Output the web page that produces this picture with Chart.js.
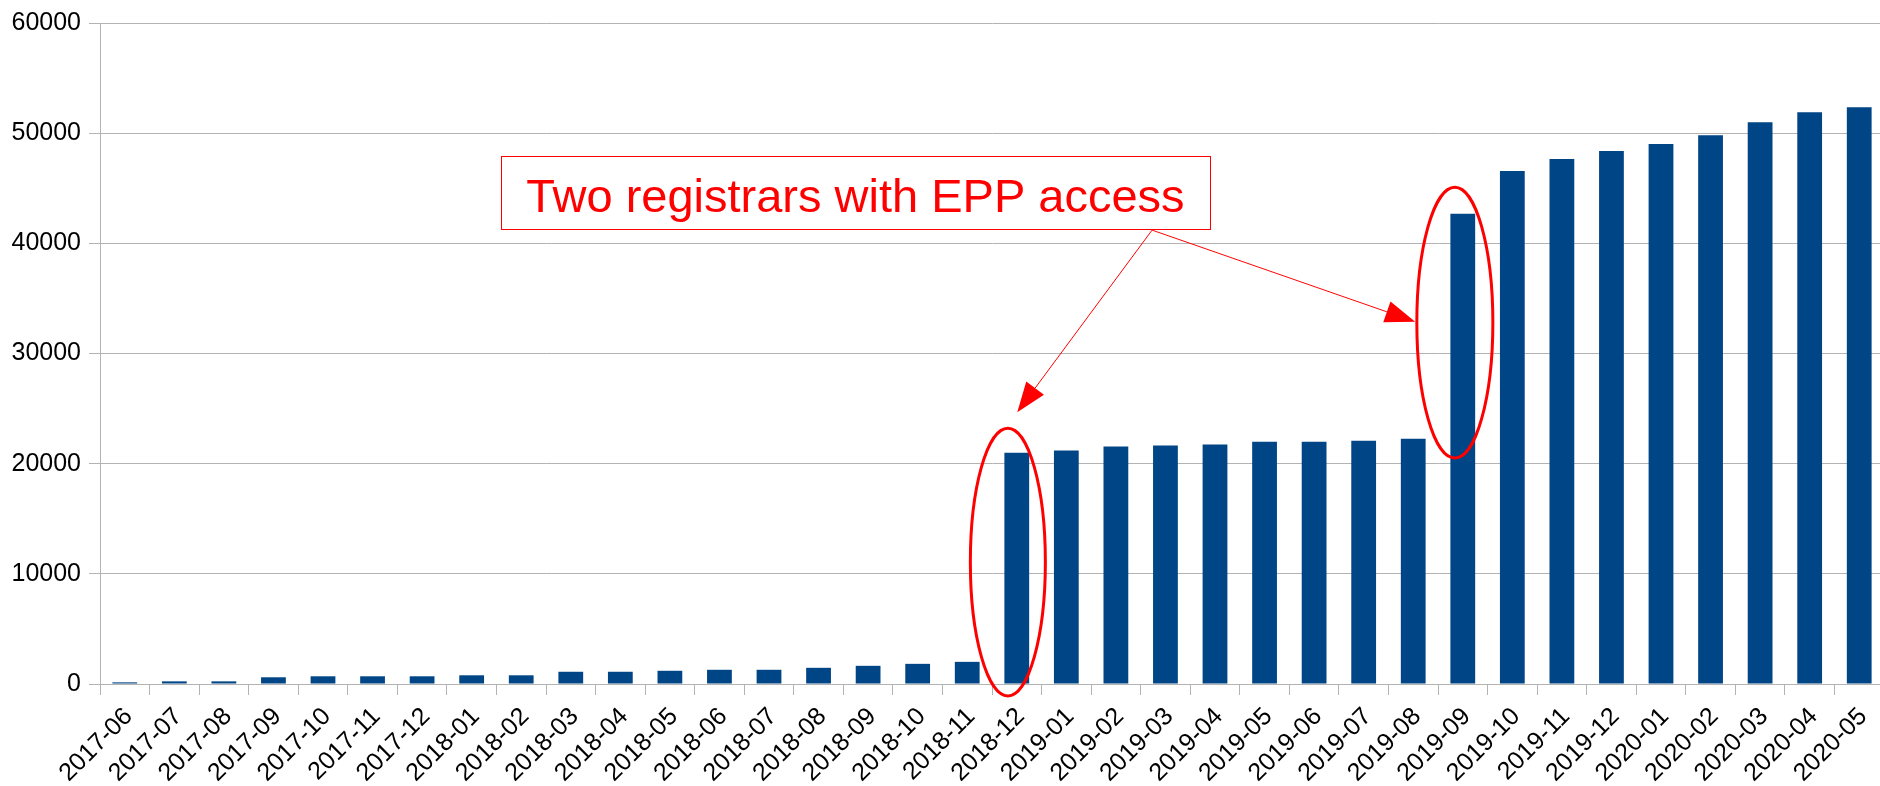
<!DOCTYPE html>
<html>
<head>
<meta charset="utf-8">
<title>Domains</title>
<script src="https://cdn.jsdelivr.net/npm/chart.js@4.4.1/dist/chart.umd.min.js"></script>
<style>
  html, body { margin: 0; padding: 0; background: #fff; overflow: hidden; }
  #wrap { width: 1880px; height: 786px; overflow: hidden; }
</style>
</head>
<body>
<div id="wrap"><canvas id="chart" width="1884" height="786"></canvas></div>
<script>
const months = [
  "2017-06", "2017-07", "2017-08", "2017-09", "2017-10", "2017-11", "2017-12",
  "2018-01", "2018-02", "2018-03", "2018-04", "2018-05", "2018-06", "2018-07",
  "2018-08", "2018-09", "2018-10", "2018-11", "2018-12",
  "2019-01", "2019-02", "2019-03", "2019-04", "2019-05", "2019-06", "2019-07",
  "2019-08", "2019-09", "2019-10", "2019-11", "2019-12",
  "2020-01", "2020-02", "2020-03", "2020-04", "2020-05"
];

const domains = [
  150, 240, 240, 610, 700, 700, 700,
  790, 790, 1110, 1110, 1200, 1290, 1290,
  1470, 1650, 1830, 2010, 21000,
  21190, 21550, 21640, 21730, 22000, 22000, 22090,
  22270, 42680, 46570, 47650, 48370,
  49010, 49820, 51000, 51900, 52350
];

const yTicks = [0, 10000, 20000, 30000, 40000, 50000, 60000];

// annotation, in category index / value units
const noteText = "Two registrars with EPP access";
const noteBox = { x0: 7.59, x1: 21.9, top: 47890, bottom: 41290, baseline: 42830 };
const arrowFrom = { x: 20.73, y: 41200 };
const arrowTips = [{ x: 18.01, y: 24670 }, { x: 26.04, y: 32890 }];
const rings = [
  { x: 17.82, y: 11070, rx: 0.757, ry: 12150 },
  { x: 26.84, y: 32800, rx: 0.767, ry: 12290 }
];

const red = "#ff0000";
const gridGray = "#b3b3b3";
const font = "'Liberation Sans', Arial, sans-serif";

const annotations = {
  id: "annotations",
  afterDatasetsDraw(chart) {
    const ctx = chart.ctx;
    const xs = chart.scales.x;
    const ys = chart.scales.y;
    const px = (v) => xs.getPixelForValue(v);
    const py = (v) => ys.getPixelForValue(v);
    const unitX = px(1) - px(0);
    const unitY = py(0) - py(1);

    ctx.save();

    // ellipses
    ctx.strokeStyle = red;
    ctx.lineWidth = 3;
    rings.forEach((r) => {
      ctx.beginPath();
      ctx.ellipse(px(r.x), py(r.y), r.rx * unitX, r.ry * unitY, 0, 0, Math.PI * 2);
      ctx.stroke();
    });

    // box with text
    const bx = px(noteBox.x0), bw = px(noteBox.x1) - bx;
    const by = py(noteBox.top), bh = py(noteBox.bottom) - by;
    ctx.fillStyle = "#fff";
    ctx.fillRect(bx, by, bw, bh);
    ctx.lineWidth = 1;
    ctx.strokeStyle = red;
    ctx.strokeRect(Math.round(bx) + 0.5, Math.round(by) + 0.5, Math.round(bw), Math.round(bh));
    ctx.fillStyle = red;
    ctx.font = "47px " + font;
    ctx.textAlign = "center";
    ctx.textBaseline = "alphabetic";
    ctx.fillText(noteText, bx + bw / 2, py(noteBox.baseline));

    // arrows
    const ox = px(arrowFrom.x), oy = py(arrowFrom.y);
    arrowTips.forEach((t) => {
      const tx = px(t.x), ty = py(t.y);
      const ang = Math.atan2(ty - oy, tx - ox);
      const len = 30, half = 11;
      const baseX = tx - Math.cos(ang) * len;
      const baseY = ty - Math.sin(ang) * len;
      ctx.beginPath();
      ctx.moveTo(ox, oy);
      ctx.lineTo(baseX, baseY);
      ctx.lineWidth = 1;
      ctx.strokeStyle = red;
      ctx.stroke();
      ctx.beginPath();
      ctx.moveTo(tx, ty);
      ctx.lineTo(baseX - Math.sin(ang) * half, baseY + Math.cos(ang) * half);
      ctx.lineTo(baseX + Math.sin(ang) * half, baseY - Math.cos(ang) * half);
      ctx.closePath();
      ctx.fillStyle = red;
      ctx.fill();
    });

    ctx.restore();
  }
};

new Chart(document.getElementById("chart"), {
  type: "bar",
  data: {
    labels: months,
    datasets: [{
      data: domains,
      backgroundColor: "#004586",
      borderWidth: 0,
      barPercentage: 0.5,
      categoryPercentage: 1.0
    }]
  },
  options: {
    responsive: false,
    animation: false,
    devicePixelRatio: 1,
    layout: { padding: { top: 20, right: 0, left: 0, bottom: 0 } },
    plugins: {
      legend: { display: false },
      tooltip: { enabled: false }
    },
    scales: {
      x: {
        offset: true,
        grid: {
          offset: true,
          drawOnChartArea: false,
          drawTicks: true,
          tickLength: 11,
          color: gridGray
        },
        border: { display: true, color: gridGray },
        ticks: {
          color: "#000",
          font: { family: font, size: 25 },
          minRotation: 45,
          maxRotation: 45,
          autoSkip: false,
          padding: 7,
          labelOffset: 4
        },
        afterFit(scale) {
          scale.height = 102;
          scale.paddingLeft = 0;
          scale.paddingRight = 0;
        }
      },
      y: {
        min: 0,
        max: 60000,
        afterBuildTicks(scale) {
          scale.ticks = yTicks.map((v) => ({ value: v }));
        },
        grid: {
          color: gridGray,
          tickLength: 11
        },
        border: { display: true, color: gridGray },
        ticks: {
          color: "#000",
          font: { family: font, size: 25 },
          padding: 8,
          callback: (v) => String(v)
        },
        afterFit(scale) {
          scale.width = 100;
        }
      }
    }
  },
  plugins: [annotations]
});
</script>
</body>
</html>
